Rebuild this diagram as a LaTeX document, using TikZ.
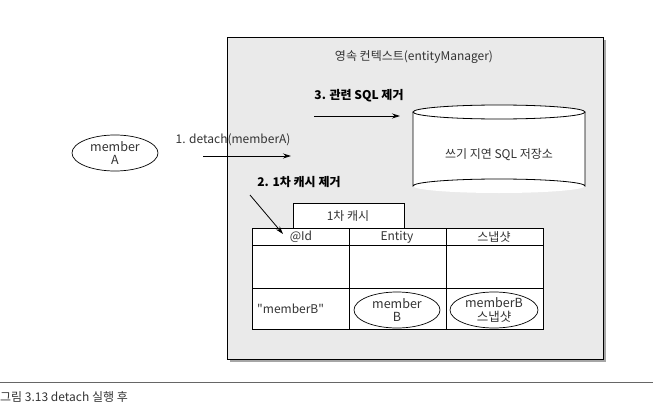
\documentclass[tikz,border=0pt]{standalone}
\usepackage{fontspec}
\setmainfont{Noto Sans CJK KR}
\usetikzlibrary{arrows.meta,shapes.geometric}
\definecolor{boxgray}{HTML}{EAEAEA}
\definecolor{txt}{HTML}{333333}
\begin{document}
\begin{tikzpicture}[x=1pt,y=-1pt,
  lbl/.style={font=\fontsize{12}{13}\selectfont,text=txt,inner sep=0pt},
  blbl/.style={font=\fontsize{12}{13}\selectfont\bfseries,text=black,inner sep=0pt},
  arr/.style={-{Stealth[length=8pt,width=5pt]},line width=0.8pt},
  oval/.style={draw,line width=0.7pt,ellipse,fill=white,minimum width=86pt,minimum height=36pt,inner sep=0pt,align=center,font=\fontsize{12.5}{13.5}\selectfont,text=txt},
  cell/.style={draw,line width=0.8pt,fill=white}
]
\useasboundingbox (0,0) rectangle (653,412);
% persistence context box with shadow
\fill[gray!70] (230,40) rectangle (606,362);
\draw[fill=boxgray,line width=0.7pt] (227,37) rectangle (603,359);
\node[lbl] (title) at (414,57) {영속 컨텍스트(entityManager)};
% SQL store cylinder
\fill[white] (413,112) rectangle (585,186);
\fill[white] (499,186) ellipse [x radius=86,y radius=7];
\draw[line width=0.8pt] (413,112) -- (413,186) arc[start angle=180,end angle=360,x radius=86,y radius=7] -- (585,112);
\draw[line width=0.8pt,fill=white] (499,112) ellipse [x radius=86,y radius=7];
\node[lbl] (store) at (499,155) {쓰기 지연 SQL 저장소};
\coordinate (storeW) at (400,116);
% label 3
\node[blbl] (l3) at (359,96) {3. 관련 SQL 제거};
\coordinate (a3s) at (314,116);
\draw[arr] (a3s) -- (storeW);
% member A
\node[oval] (mA) at (115,153) {member\\A};
\node[lbl] (l1) at (233,140) {1. detach(memberA)};
\coordinate (a1s) at (203,156);
\coordinate (a1e) at (291,156);
\draw[arr] (a1s) -- (a1e);
% label 2
\node[blbl] (l2) at (299,182) {2. 1차 캐시 제거};
\coordinate (a2s) at (250,195);
\coordinate (a2e) at (283,234);
% 1st level cache tab
\draw[cell] (293,203) rectangle (404,228);
\node[lbl] (tab) at (348,216) {1차 캐시};
% table
\draw[cell] (252,228) rectangle (543,329);
\draw[line width=0.8pt] (252,245) -- (543,245);
\draw[line width=0.8pt] (252,288) -- (543,288);
\draw[line width=0.8pt] (349,228) -- (349,329);
\draw[line width=0.8pt] (446,228) -- (446,329);
\node[lbl] (hId) at (301,237) {@Id};
\node[lbl] (hEnt) at (397,237) {Entity};
\node[lbl] (hSnap) at (494,237) {스냅샷};
\node[lbl,anchor=west] (key) at (257,309) {\addfontfeature{Ligatures=TeXOff}"memberB"};
\node[oval] (mB) at (397,310) {member\\B};
\node[oval,minimum width=88pt] (snap) at (494,310) {memberB\\스냅샷};
\draw[arr] (a2s) -- (a2e);
% caption
\draw[line width=0.6pt,gray!80!black] (0,382) -- (653,382);
\node[lbl,anchor=west,text=black!80] (cap) at (0,397) {그림 3.13 detach 실행 후};
\end{tikzpicture}
\end{document}
